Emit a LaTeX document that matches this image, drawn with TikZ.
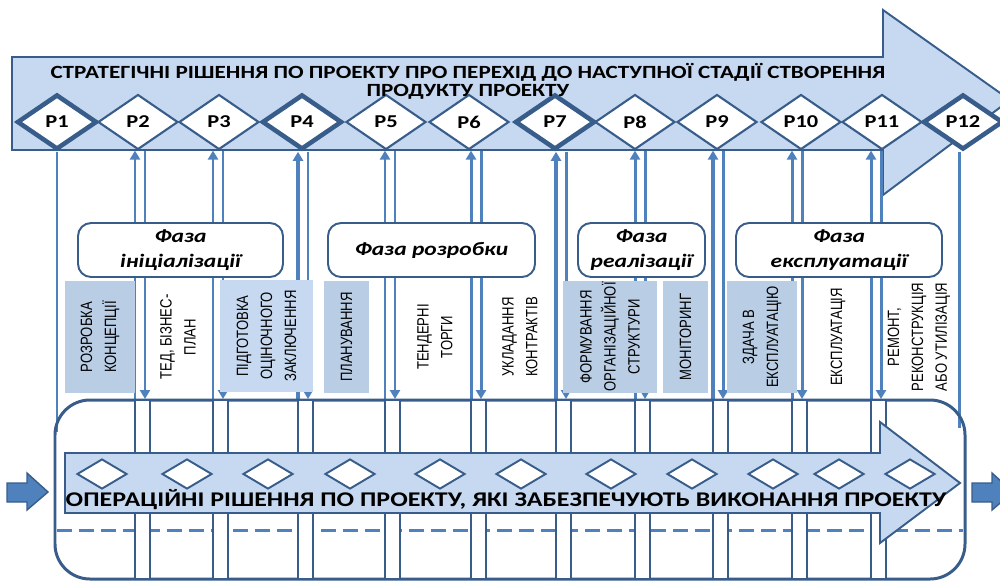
\documentclass[tikz,border=0pt]{standalone}
\usepackage{fontspec}
\setmainfont[FakeStretch=1.24]{Carlito}
\newfontfamily\narrowfont[FakeStretch=0.8]{Liberation Sans}
\usetikzlibrary{shapes.geometric,arrows.meta}
\definecolor{arrowfill}{HTML}{C6D9F1}
\definecolor{boxfill}{HTML}{B9CDE5}
\definecolor{linkblue}{HTML}{4F81BD}
\definecolor{darkblue}{HTML}{385D8A}
\tikzset{
  pdec/.style={diamond,draw=darkblue,fill=white,line width=1.2pt,minimum width=1.6cm,
    minimum height=1.1cm,inner sep=0pt,font=\bfseries\fontsize{10.3}{12}\selectfont},
  pkey/.style={pdec,line width=2.6pt},
  opdec/.style={diamond,draw=darkblue,fill=white,line width=1.1pt,minimum width=1cm,
    minimum height=0.6cm,inner sep=0pt},
  phase/.style={draw=darkblue,fill=white,line width=1.1pt,rounded corners=0.26cm,
    minimum width=4.1cm,minimum height=1.08cm,align=center,
    font=\bfseries\itshape\fontsize{10.8}{14.2}\selectfont},
  stage/.style={rotate=90,align=center,inner sep=0pt,minimum width=2.24cm,
    font=\narrowfont\fontsize{9.3}{13.6}\selectfont},
  link/.style={linkblue,line width=1.7pt},
  upln/.style={link,-{Triangle[length=1.8mm,width=2mm]}},
  lane/.style={draw=darkblue,fill=white,line width=1.4pt},
  bigarrow/.style={draw=darkblue,fill=arrowfill,line width=1.1pt}
}
\begin{document}
\begin{tikzpicture}[x=0.02cm,y=-0.02cm]
\useasboundingbox (0,0) rectangle (1000,582);
% strategic decisions
\draw[bigarrow] (12,57) -- (883,57) -- (883,10) -- (1010,100) -- (883,195)
  -- (883,150) -- (12,150) -- cycle;
\foreach \n/\x/\s in {1/57/pkey,2/138/pdec,3/219/pdec,4/302/pkey,5/386/pdec,6/469/pdec,
  7/555/pkey,8/635/pdec,9/717/pdec,10/801/pdec,11/882/pdec,12/963/pkey}
  \node[\s] (p\n) at (\x,122) {P\n};
\node[font=\bfseries\fontsize{10.6}{10.2}\selectfont,align=center] (strat) at (468,81)
  {СТРАТЕГІЧНІ РІШЕННЯ ПО ПРОЕКТУ ПРО ПЕРЕХІД ДО НАСТУПНОЇ СТАДІЇ СТВОРЕННЯ\\ПРОДУКТУ ПРОЕКТУ};

% links between the two levels
\coordinate (ft) at (0,399);
\coordinate (fl) at (57,432);
\coordinate (fr) at (959,428);
\draw[link] (p1.south) -- (fl);
\draw[link] (p12.south -| fr) -- (fr);
\foreach \n/\u/\w in {2/135/1.7pt,3/213/1.7pt,4/298/2.4pt,5/385/1.7pt,6/471/1.7pt,
  7/556/2.4pt,8/635/1.7pt,9/713/2.4pt,10/792/1.7pt,11/871/1.7pt}{
  \pgfmathsetmacro\d{\u+10}
  \draw[upln,line width=\w] (ft -| \u,0) -- (p\n.south -| \u,0);
  \draw[upln] (p\n.south -| \d,0) -- (ft -| \d,0);
}

% phases
\node[phase] (ph1) at (180.5,250) {Фаза\\ініціалізації};
\node[phase,minimum width=4.14cm] (ph2) at (431.5,250) {Фаза розробки};
\node[phase,minimum width=2.54cm] (ph3) at (641.5,250) {Фаза\\реалізації};
\node[phase,minimum width=4.12cm] (ph4) at (839,250) {Фаза\\експлуатації};

% stages
\node[stage,fill=boxfill,minimum height=1.4cm] (s1) at (100,337) {РОЗРОБКА\\КОНЦЕПЦІЇ};
\node[stage] (s2) at (178,337) {ТЕД, БІЗНЕС-\\ПЛАН};
\node[stage,fill=arrowfill,minimum height=1.86cm] (s3) at (266.5,336) {ПІДГОТОВКА\\ОЦІНОЧНОГО\\ЗАКЛЮЧЕННЯ};
\node[stage,fill=boxfill,minimum height=0.9cm] (s4) at (346.5,337) {ПЛАНУВАННЯ};
\node[stage] (s5) at (435,337) {ТЕНДЕРНІ\\ТОРГИ};
\node[stage] (s6) at (520,337) {УКЛАДАННЯ\\КОНТРАКТІВ};
\node[stage,fill=boxfill,minimum height=1.88cm] (s7) at (610,337) {ФОРМУВАННЯ\\ОРГАНІЗАЦІЙНОЇ\\СТРУКТУРИ};
\node[stage,fill=boxfill,minimum height=0.9cm] (s8) at (685.5,337) {МОНІТОРИНГ};
\node[stage,fill=boxfill,minimum height=1.4cm] (s9) at (762,337) {ЗДАЧА В\\ЕКСПЛУАТАЦІЮ};
\node[stage] (s10) at (838,337) {ЕКСПЛУАТАЦІЯ};
\node[stage] (s11) at (919,337) {РЕМОНТ,\\РЕКОНСТРУКЦІЯ\\АБО УТИЛІЗАЦІЯ};

% operational decisions
\draw[darkblue,line width=1.7pt,rounded corners=0.7cm] (55,400) rectangle (965,579);
\draw[link,dash pattern=on 0.3cm off 0.14cm] (57,530) -- (963,530);
\foreach \u in {135,213,298,385,471,556,635,713,792,871}
  \draw[lane] (\u,400) rectangle ++(15,179);
\draw[bigarrow] (65,453) -- (880,453) -- (880,422) -- (960,483) -- (880,543)
  -- (880,513) -- (65,513) -- cycle;
\foreach \x [count=\i] in {102,187,268,350,440,521,611,692,773,839,910}
  \node[opdec] (o\i) at (\x,474) {};
\node[font=\bfseries\fontsize{11.9}{12}\selectfont] (oper) at (506,500)
  {ОПЕРАЦІЙНІ РІШЕННЯ ПО ПРОЕКТУ, ЯКІ ЗАБЕЗПЕЧУЮТЬ ВИКОНАННЯ ПРОЕКТУ};
\foreach \s in {0,965}
  \draw[fill=linkblue,draw=darkblue,line width=0.8pt,xshift=\s*0.02cm]
    (7,483) -- (27,483) -- (27,473) -- (48,492) -- (27,510) -- (27,502) -- (7,502) -- cycle;
\end{tikzpicture}
\end{document}
